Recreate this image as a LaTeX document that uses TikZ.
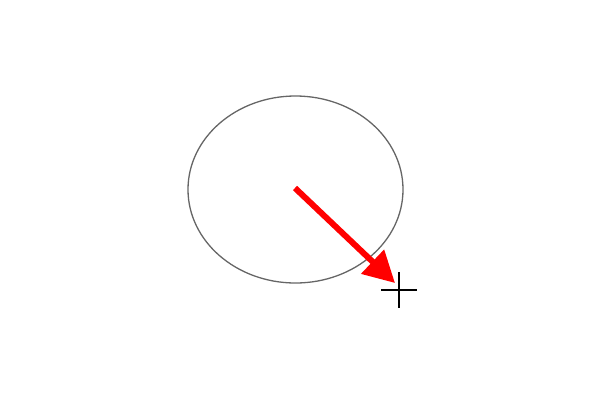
\documentclass[tikz,border=0pt]{standalone}
\usetikzlibrary{shapes.geometric,arrows.meta}
\begin{document}
\begin{tikzpicture}[x=1pt,y=-1pt,
  ringstyle/.style={draw=black!60, line width=1.3pt, ellipse, minimum width=215pt, minimum height=187pt, inner sep=0pt},
  redarrow/.style={draw=red, line width=6pt, -{Triangle[length=31pt,width=32pt]}},
  crossline/.style={draw=black, line width=2pt}]
\useasboundingbox (0,0) rectangle (600,400);
\node[ringstyle] (ring) at (295.5,189.5) {};
\coordinate (start) at (295,188);
\coordinate (tip) at (395,283);
\draw[redarrow] (start) -- (tip);
\coordinate (cross) at (399,290);
\coordinate (cl) at (381,290);
\coordinate (cr) at (417,290);
\coordinate (ct) at (399,272);
\coordinate (cb) at (399,308);
\draw[crossline] (cl) -- (cr);
\draw[crossline] (ct) -- (cb);
\end{tikzpicture}
\end{document}
